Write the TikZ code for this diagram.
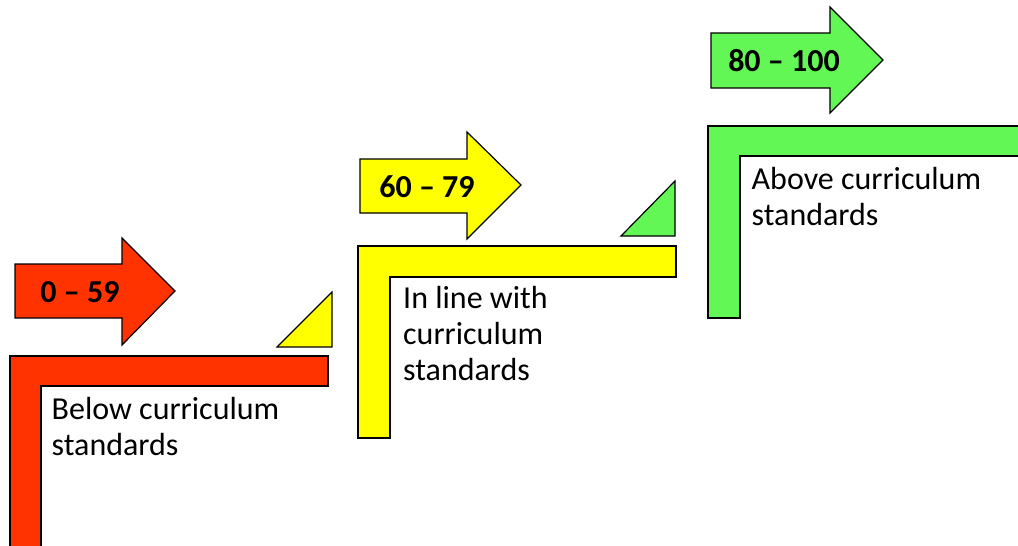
\documentclass[tikz,border=0pt]{standalone}
\usepackage{fontspec}
\setmainfont{Carlito}
\definecolor{lowred}{RGB}{255,51,0}
\definecolor{midyellow}{RGB}{255,255,0}
\definecolor{highgreen}{RGB}{99,247,85}

\begin{document}
\begin{tikzpicture}[x=1pt, y=-1pt,
  piece/.style={draw=black, line width=1.2pt, line join=miter},
  scoretext/.style={font=\fontsize{32}{34}\selectfont\bfseries, inner sep=0pt},
  leveltext/.style={anchor=base west, align=left, inner sep=0pt, font=\fontsize{32}{36}\selectfont}]
\useasboundingbox (0,0) rectangle (1018,546);
\clip (0,0) rectangle (1018,546);
% below
\draw [piece, fill=lowred] (10,356) -- (328,356) -- (328,386) -- (41,386) -- (41,560) -- (10,560) -- cycle;
\draw [piece, fill=lowred] (15,264) -- (122,264) -- (122,238) -- (175,291) -- (122,345) -- (122,318) -- (15,318) -- cycle;
\node [scoretext] (lowscore) at (80,292) {0 – 59};
\node [leveltext] (lowlevel) at (51.5,455.5) {Below curriculum\\standards};
\draw [piece, fill=midyellow] (277,347) -- (332,292) -- (332,347) -- cycle;
% in line
\draw [piece, fill=midyellow] (358,246) -- (676,246) -- (676,277) -- (390,277) -- (390,438) -- (358,438) -- cycle;
\draw [piece, fill=midyellow] (360,159) -- (467,159) -- (467,132) -- (521,185) -- (467,239) -- (467,213) -- (360,213) -- cycle;
\node [scoretext] (midscore) at (427,187) {60 – 79};
\node [leveltext] (midlevel) at (403,380.5) {In line with\\curriculum\\standards};
\draw [piece, fill=highgreen] (621,236) -- (675,181) -- (675,236) -- cycle;
% above
\draw [piece, fill=highgreen] (708,126) -- (1030,126) -- (1030,156) -- (740,156) -- (740,318) -- (708,318) -- cycle;
\draw [piece, fill=highgreen] (711,33) -- (830,33) -- (830,7) -- (883,60) -- (830,113) -- (830,88) -- (711,88) -- cycle;
\node [scoretext] (highscore) at (784,61) {80 – 100};
\node [leveltext] (highlevel) at (751.5,225.5) {Above curriculum\\standards};
\end{tikzpicture}
\end{document}
